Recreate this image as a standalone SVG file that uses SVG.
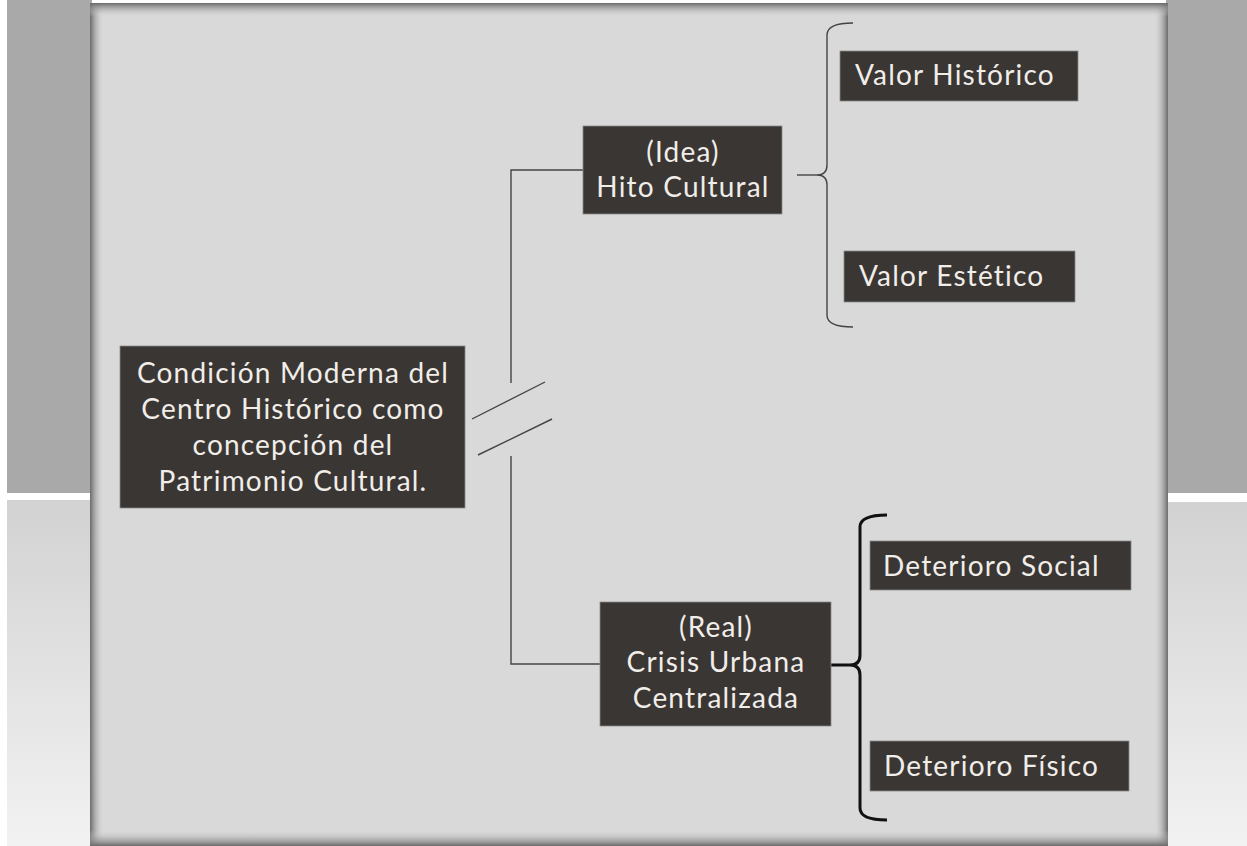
<svg xmlns="http://www.w3.org/2000/svg" width="1247" height="846" viewBox="0 0 1247 846">
<defs>
<linearGradient id="lowband" x1="0" y1="0" x2="0" y2="1">
<stop offset="0" stop-color="#d2d2d2"/><stop offset="1" stop-color="#f2f2f2"/>
</linearGradient>
<linearGradient id="shL" x1="0" y1="0" x2="1" y2="0">
<stop offset="0" stop-color="#6a6a6a"/><stop offset="1" stop-color="#d9d9d9" stop-opacity="0"/>
</linearGradient>
<linearGradient id="shR" x1="1" y1="0" x2="0" y2="0">
<stop offset="0" stop-color="#6a6a6a"/><stop offset="1" stop-color="#d9d9d9" stop-opacity="0"/>
</linearGradient>
<linearGradient id="shT" x1="0" y1="0" x2="0" y2="1">
<stop offset="0" stop-color="#6a6a6a"/><stop offset="1" stop-color="#d9d9d9" stop-opacity="0"/>
</linearGradient>
<linearGradient id="shB" x1="0" y1="1" x2="0" y2="0">
<stop offset="0" stop-color="#6a6a6a"/><stop offset="1" stop-color="#d9d9d9" stop-opacity="0"/>
</linearGradient>
</defs>
<style>
.box{fill:#3a3634;stroke:#8a8a8a;stroke-width:0.8}
.t{font-family:Lato,"Open Sans","Liberation Sans",sans-serif;font-size:28px;letter-spacing:1.2px;fill:#f1ede8}
.c{text-anchor:middle}
.thin{fill:none;stroke:#444;stroke-width:1.4}
.thick{fill:none;stroke:#111;stroke-width:3}
</style>
<rect width="1247" height="846" fill="#ffffff"/>
<rect x="7" y="0" width="85" height="493" fill="#a9a9a9"/>
<rect x="7" y="500" width="85" height="346" fill="url(#lowband)"/>
<rect x="1166" y="0" width="81" height="493" fill="#a9a9a9"/>
<rect x="1166" y="502" width="81" height="344" fill="url(#lowband)"/>
<rect x="90" y="3" width="1078" height="843" fill="#d9d9d9"/>
<rect x="90" y="3" width="14" height="843" fill="url(#shL)"/>
<rect x="1154" y="3" width="14" height="843" fill="url(#shR)"/>
<rect x="90" y="3" width="1078" height="14" fill="url(#shT)"/>
<rect x="90" y="830" width="1078" height="16" fill="url(#shB)"/>

<g id="connectors">
<path class="thin" d="M583,170 H511 V383"/>
<path class="thin" d="M511,456 V664 H600"/>
<line class="thin" x1="472" y1="419" x2="545" y2="382"/>
<line class="thin" x1="478" y1="455" x2="552" y2="419"/>
<path class="thin" d="M853,23 Q827,23 827,35 V165 Q827,175 817,175 Q827,175 827,185 V315 Q827,327 853,327"/>
<line class="thin" x1="797" y1="175" x2="817" y2="175"/>
<path class="thick" d="M887,515 Q860,515 860,527 V655 Q860,665 850,665 Q860,665 860,675 V808 Q860,820 887,820"/>
<line class="thick" x1="822" y1="665" x2="850" y2="665"/>
</g>

<g id="main">
<rect class="box" x="120" y="346" width="345" height="162"/>
<text class="t c" x="293" y="383">Condición Moderna del</text>
<text class="t c" x="293" y="419">Centro Histórico como</text>
<text class="t c" x="293" y="455">concepción del</text>
<text class="t c" x="293" y="491">Patrimonio Cultural.</text>
</g>
<g id="idea">
<rect class="box" x="583" y="126" width="199" height="88"/>
<text class="t c" x="683" y="162">(Idea)</text>
<text class="t c" x="683" y="197">Hito Cultural</text>
</g>
<g id="valor-historico">
<rect class="box" x="840" y="51" width="238" height="50"/>
<text class="t" x="855" y="85">Valor Histórico</text>
</g>
<g id="valor-estetico">
<rect class="box" x="844" y="251" width="231" height="51"/>
<text class="t" x="859" y="286">Valor Estético</text>
</g>
<g id="real">
<rect class="box" x="600" y="602" width="231" height="124"/>
<text class="t c" x="716" y="637">(Real)</text>
<text class="t c" x="716" y="672">Crisis Urbana</text>
<text class="t c" x="716" y="708">Centralizada</text>
</g>
<g id="deterioro-social">
<rect class="box" x="870" y="541" width="261" height="49"/>
<text class="t" x="883" y="576">Deterioro Social</text>
</g>
<g id="deterioro-fisico">
<rect class="box" x="870" y="741" width="259" height="50"/>
<text class="t" x="884" y="776">Deterioro Físico</text>
</g>
</svg>
